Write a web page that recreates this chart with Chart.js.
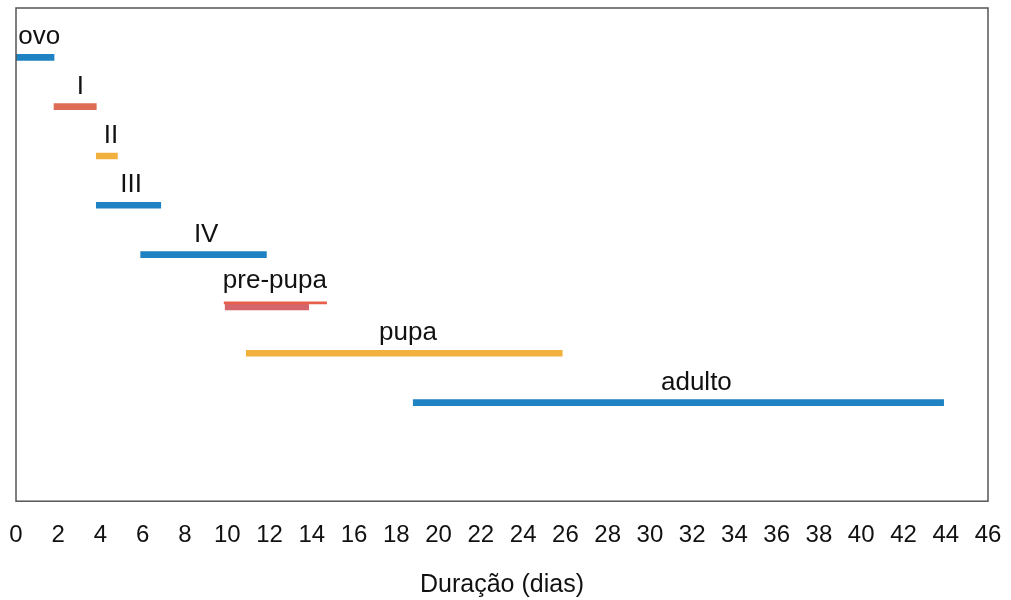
<!DOCTYPE html>
<html>
<head>
<meta charset="utf-8">
<script src="https://cdn.jsdelivr.net/npm/chart.js@4"></script>
<style>
  body { margin: 0; background: #fff; }
  #wrap { width: 1011px; height: 600px; }
</style>
</head>
<body>
<div id="wrap"><canvas id="ciclo"></canvas></div>
<script>
// fases do ciclo e duração (dias)
const stages = ["ovo", "I", "II", "III", "IV", "pre-pupa", "pupa", "adulto"];
const startDay = [0, 1.8, 3.8, 3.8, 5.9, 9.9, 10.9, 18.8];
const endDay = [1.8, 3.8, 4.8, 6.85, 11.85, 13.85, 25.85, 43.9];
const stageColors = ["#1f82c2", "#de6b55", "#f1b13c", "#1f82c2", "#1f82c2", "#d4656a", "#f1b13c", "#1f82c2"];
// linha fina extra na pre-pupa
const prePupaLine = [9.85, 14.7];
// posição (em dias) do rótulo de cada fase
const labelDay = [1.1, 3.05, 4.5, 5.45, 9.0, 12.25, 18.55, 32.2];
const xTicksMax = 46;

const rows = [""].concat(stages, ["", ""]);
const FONT = "'Liberation Sans', Arial, sans-serif";

const frame = {
  id: "frame",
  afterDraw(chart) {
    const { ctx, chartArea: a } = chart;
    ctx.save();
    ctx.strokeStyle = "#555";
    ctx.lineWidth = 1.5;
    ctx.strokeRect(a.left, a.top, a.right - a.left, a.bottom - a.top);
    ctx.restore();
  }
};

const stageLabels = {
  id: "stageLabels",
  afterDatasetsDraw(chart) {
    const { ctx } = chart;
    const xs = chart.scales.x, ys = chart.scales.y;
    ctx.save();
    ctx.font = "26px " + FONT;
    ctx.fillStyle = "#111";
    ctx.textAlign = "center";
    ctx.textBaseline = "bottom";
    stages.forEach(function (s, i) {
      const yOff = s === "pre-pupa" ? 10 : 7;
      ctx.fillText(s, xs.getPixelForValue(labelDay[i]), ys.getPixelForValue(i + 1) - yOff);
    });
    ctx.restore();
  }
};

new Chart(document.getElementById("ciclo"), {
  type: "bar",
  data: {
    labels: rows,
    datasets: [
      {
        data: rows.map(function (r) { return r === "pre-pupa" ? prePupaLine : null; }),
        backgroundColor: "#e6604b",
        barThickness: 2
      },
      {
        data: rows.map(function (r) {
          const i = stages.indexOf(r);
          return i < 0 ? null : [startDay[i], endDay[i]];
        }),
        backgroundColor: rows.map(function (r) {
          const i = stages.indexOf(r);
          return i < 0 ? "transparent" : stageColors[i];
        }),
        barThickness: 6
      }
    ]
  },
  options: {
    indexAxis: "y",
    responsive: true,
    maintainAspectRatio: false,
    animation: false,
    skipNull: true,
    layout: { padding: { left: 16, right: 23, top: 8, bottom: 0 } },
    plugins: {
      legend: { display: false },
      tooltip: { enabled: false }
    },
    scales: {
      y: {
        type: "category",
        offset: false,
        display: false
      },
      x: {
        min: 0,
        max: xTicksMax,
        grid: { display: false, drawTicks: false },
        border: { display: false },
        afterFit(scale) {
          scale.paddingLeft = 0;
          scale.paddingRight = 0;
        },
        ticks: {
          stepSize: 2,
          padding: 20,
          maxRotation: 0,
          minRotation: 0,
          autoSkip: false,
          color: "#111",
          font: { family: FONT, size: 24 }
        },
        title: {
          display: true,
          text: "Duração (dias)",
          color: "#111",
          padding: { top: 0, bottom: 0 },
          font: { family: FONT, size: 25 }
        }
      }
    }
  },
  plugins: [frame, stageLabels]
});
</script>
</body>
</html>
